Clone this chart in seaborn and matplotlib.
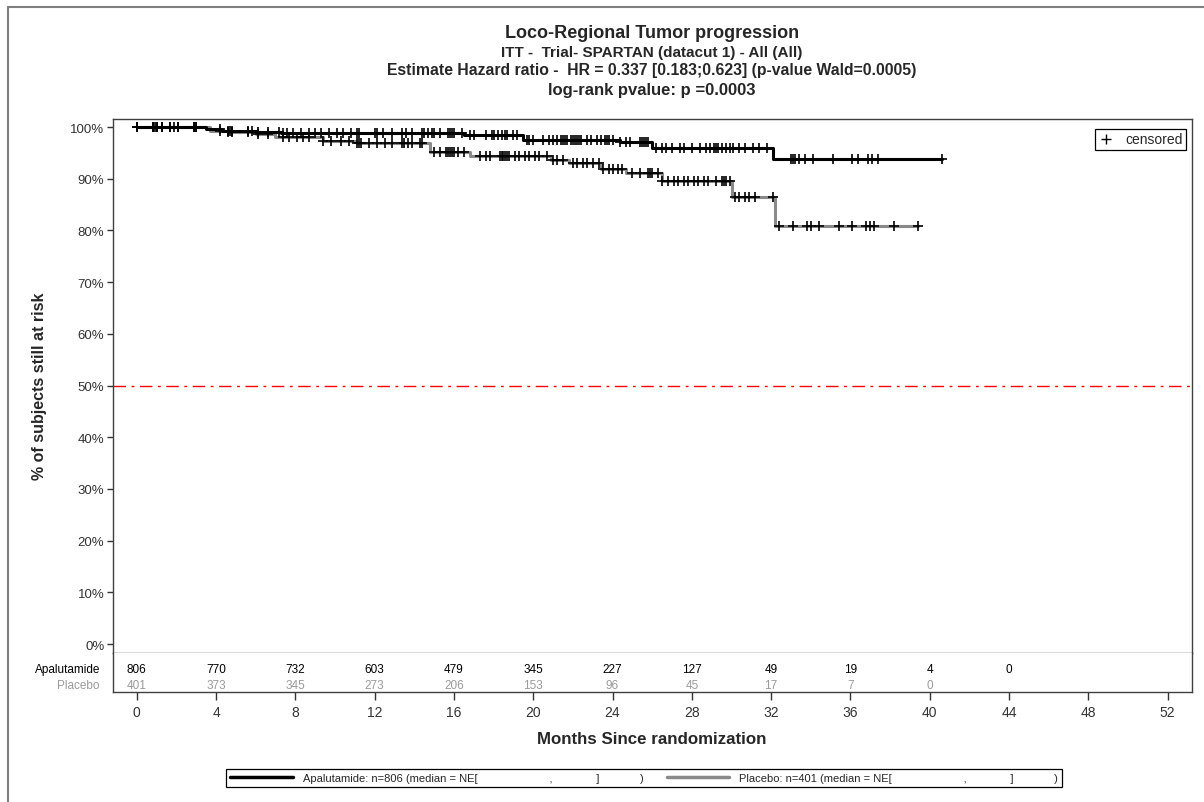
import numpy as np
import pandas as pd
import matplotlib
matplotlib.use("Agg")
import matplotlib.pyplot as plt
import seaborn as sns
from matplotlib.lines import Line2D

# ---- Kaplan-Meier step estimates (months, % still at risk) ----
apa_time = [0, 3.5, 4.3, 6.0, 7.3, 16.5, 19.5, 24.4, 26.0, 32.1, 40.6]
apa_surv = [100, 99.6, 99.3, 99.0, 98.9, 98.5, 97.5, 97.1, 95.9, 93.9, 93.9]

pla_time = [0, 3.7, 4.6, 6.0, 7.0, 9.4, 11.1, 14.8, 16.8, 20.9, 21.8, 23.4,
            24.7, 26.5, 30.0, 32.2, 39.4]
pla_surv = [100, 99.3, 99.0, 98.6, 98.1, 97.3, 97.0, 95.2, 94.4, 93.6, 93.0,
            91.8, 91.1, 89.6, 86.4, 80.9, 80.9]

# ---- censoring times (months) ----
apa_cens = [0.0, 0.8, 0.9, 1.0, 1.3, 1.7, 1.9, 2.1, 2.9, 3.0, 4.2, 4.6, 4.7,
            4.8, 5.6, 5.8, 6.1, 6.6, 7.2, 7.4, 7.6, 7.9, 8.3, 8.7, 9.0, 9.3,
            9.7, 10.1, 10.4, 10.8, 11.1, 11.2, 12.0, 12.1, 12.4, 12.9, 13.4,
            13.6, 13.9, 14.4, 14.5, 14.7, 14.9, 15.0, 15.3, 15.7, 15.8, 15.9,
            16.0, 16.4, 16.8, 17.0, 17.6, 17.9, 18.0, 18.2, 18.4, 18.6, 18.7,
            19.0, 19.2, 19.7, 19.8, 20.0, 20.5, 20.8, 21.0, 21.2, 21.4, 21.5,
            21.6, 21.7, 21.9, 22.0, 22.1, 22.2, 22.3, 22.4, 22.7, 22.9, 23.2,
            23.4, 23.6, 23.7, 23.8, 24.0, 24.4, 24.7, 24.9, 25.4, 25.5, 25.6,
            25.7, 25.8, 26.2, 26.5, 26.7, 27.0, 27.4, 27.6, 28.0, 28.4, 28.7,
            28.9, 29.1, 29.2, 29.3, 29.5, 29.7, 29.9, 30.1, 30.4, 30.7, 31.1,
            31.4, 31.8, 33.0, 33.1, 33.2, 33.4, 33.7, 34.1, 35.1, 36.1, 36.4,
            36.9, 37.1, 37.4, 40.6]

pla_cens = [0.0, 0.8, 1.0, 1.3, 1.7, 2.1, 2.9, 3.0, 4.2, 4.6, 4.8, 5.6, 6.1,
            6.6, 7.4, 7.7, 8.1, 8.4, 8.7, 9.4, 9.8, 10.3, 10.7, 11.1, 11.2,
            11.3, 11.7, 12.1, 12.5, 12.9, 13.4, 13.5, 13.7, 13.9, 14.3, 14.4,
            15.0, 15.3, 15.6, 15.7, 15.8, 15.9, 16.0, 16.2, 16.5, 17.3, 17.6,
            17.8, 18.3, 18.4, 18.5, 18.6, 18.7, 18.8, 19.1, 19.3, 19.6, 19.8,
            20.1, 20.3, 20.7, 21.0, 21.2, 21.5, 22.0, 22.2, 22.5, 22.7, 23.0,
            23.3, 23.5, 23.8, 24.0, 24.3, 24.5, 25.0, 25.4, 25.8, 25.9, 26.0,
            26.3, 26.5, 26.8, 27.1, 27.3, 27.6, 27.8, 28.1, 28.3, 28.6, 28.8,
            29.2, 29.5, 29.6, 29.7, 29.9, 30.2, 30.4, 30.7, 30.9, 31.2, 32.1,
            32.4, 33.1, 33.8, 34.0, 34.4, 35.4, 36.1, 36.8, 37.0, 37.2, 38.2,
            39.4]

# ---- numbers at risk ----
risk_months = [0, 4, 8, 12, 16, 20, 24, 28, 32, 36, 40, 44]
apa_risk = [806, 770, 732, 603, 479, 345, 227, 127, 49, 19, 4, 0]
pla_risk = [401, 373, 345, 273, 206, 153, 96, 45, 17, 7, 0]

x_ticks = list(range(0, 53, 4))
y_ticks = list(range(0, 101, 10))

APA_COLOR = "black"
PLA_COLOR = "#8a8a8a"
PLA_TEXT = "#9a9a9a"

sns.set_style("white")
plt.rcParams["font.family"] = ["Liberation Sans", "DejaVu Sans"]

W, H = 1204, 803
fig = plt.figure(figsize=(W / 100, H / 100), dpi=100)


def fx(px):
    return px / W


def fy(py):
    return 1 - py / H


left_px, right_px = 113.3, 1191.7
top_px, mid_px, bot_px = 120, 654, 693.3
ax = fig.add_axes([fx(left_px), fy(mid_px), (right_px - left_px) / W,
                   (mid_px - top_px) / H])
axt = fig.add_axes([fx(left_px), fy(bot_px), (right_px - left_px) / W,
                    (bot_px - mid_px) / H], sharex=ax)

# step curves
curve_df = pd.concat([
    pd.DataFrame({"month": pla_time, "surv": pla_surv, "arm": "Placebo"}),
    pd.DataFrame({"month": apa_time, "surv": apa_surv, "arm": "Apalutamide"}),
], ignore_index=True)
sns.lineplot(data=curve_df, x="month", y="surv", hue="arm",
             hue_order=["Placebo", "Apalutamide"],
             palette={"Placebo": PLA_COLOR, "Apalutamide": APA_COLOR},
             drawstyle="steps-post", estimator=None, sort=False,
             linewidth=2.2, legend=False, ax=ax)


def surv_at(times, t_arr, s_arr):
    idx = np.searchsorted(np.asarray(t_arr), np.asarray(times), side="right") - 1
    return np.asarray(s_arr)[idx]


cens_df = pd.concat([
    pd.DataFrame({"month": pla_cens, "surv": surv_at(pla_cens, pla_time, pla_surv)}),
    pd.DataFrame({"month": apa_cens, "surv": surv_at(apa_cens, apa_time, apa_surv)}),
], ignore_index=True)
sns.scatterplot(data=cens_df, x="month", y="surv", marker="+", s=60,
                color="black", linewidth=1.2, legend=False, ax=ax, zorder=4)

# median reference line
ax.axhline(50, color="red", linewidth=1.0, dashes=(9, 4, 2, 4), zorder=1)

ax.set_xlim(-1.18, 53.21)
ax.set_ylim(-1.74, 101.55)
ax.set_yticks(y_ticks)
ax.set_yticklabels([f"{v}%" for v in y_ticks])
ax.tick_params(axis="y", direction="out", length=4.5, width=1,
               colors="#333333", labelsize=9.5, pad=2, left=True)
ax.tick_params(axis="x", bottom=False, labelbottom=False)
ax.set_xlabel("")
ax.set_ylabel("")
for sp in ax.spines.values():
    sp.set_color("#404040")
    sp.set_linewidth(1.0)

fig.text(fx(40), fy(386), "% of subjects still at risk", rotation=90,
         ha="center", va="center", fontsize=11.5, fontweight="bold")

# censored key
cens_handle = Line2D([], [], marker="+", color="black", linestyle="none",
                     markersize=7, markeredgewidth=1.0)
leg_c = ax.legend([cens_handle], ["censored"], loc="upper right",
                  bbox_to_anchor=(1 - (right_px - 1186) / (right_px - left_px),
                                  1 - (130 - top_px) / (mid_px - top_px)),
                  borderaxespad=0, fancybox=False, edgecolor="black",
                  framealpha=1, fontsize=10, handletextpad=0.9, borderpad=0.25,
                  handlelength=1.0)
leg_c.get_frame().set_linewidth(0.9)

# numbers-at-risk table
row_apa, row_pla = (bot_px - 670) / (bot_px - mid_px), (bot_px - 686) / (bot_px - mid_px)
axt.set_ylim(0, 1)
axt.set_yticks([])
for m, n in zip(risk_months, apa_risk):
    axt.text(m, row_apa, str(n), ha="center", va="center", fontsize=8.5,
             color="black")
for m, n in zip(risk_months, pla_risk):
    axt.text(m, row_pla, str(n), ha="center", va="center", fontsize=8.5,
             color=PLA_TEXT)
lab_x = (100 - left_px) / (right_px - left_px)
axt.text(lab_x, row_apa, "Apalutamide", transform=axt.transAxes, ha="right",
         va="center", fontsize=8.5, color="black")
axt.text(lab_x, row_pla, "Placebo", transform=axt.transAxes, ha="right",
         va="center", fontsize=8.5, color=PLA_TEXT)
axt.set_xticks(x_ticks)
axt.set_xticklabels([str(v) for v in x_ticks])
axt.tick_params(axis="x", direction="out", length=5.5, width=1,
                colors="#333333", labelsize=10, pad=3.5, bottom=True)
axt.spines["top"].set_visible(False)
for name in ["left", "right", "bottom"]:
    axt.spines[name].set_color("#404040")
    axt.spines[name].set_linewidth(1.0)

fig.text(fx(652), fy(740), "Months Since randomization", ha="center",
         va="center", fontsize=12.2, fontweight="bold")

# titles
fig.text(fx(652), fy(34), "Loco-Regional Tumor progression", ha="center",
         va="center", fontsize=13, fontweight="bold")
fig.text(fx(652), fy(53), "ITT -  Trial- SPARTAN (datacut 1) - All (All)",
         ha="center", va="center", fontsize=11, fontweight="bold")
fig.text(fx(652), fy(70),
         "Estimate Hazard ratio -  HR = 0.337 [0.183;0.623] (p-value Wald=0.0005)",
         ha="center", va="center", fontsize=11.3, fontweight="bold")
fig.text(fx(652), fy(90), "log-rank pvalue: p =0.0003", ha="center",
         va="center", fontsize=12, fontweight="bold")

# group key
handles = [Line2D([], [], color=APA_COLOR, linewidth=2.5),
           Line2D([], [], color=PLA_COLOR, linewidth=2.5)]
gap1, gap2, gap3 = " " * 23, " " * 14, " " * 13
labels = [f"Apalutamide: n=806 (median = NE[{gap1},{gap2}]{gap3})",
          f"Placebo: n=401 (median = NE[{gap1},{gap2}]{gap3})"]
leg = fig.legend(handles, labels, loc="center",
                 bbox_to_anchor=(fx(644), fy(779)), ncol=2, frameon=True,
                 fancybox=False, edgecolor="black", framealpha=1,
                 fontsize=8, handlelength=5.6, columnspacing=2.1,
                 borderpad=0.35, handletextpad=0.9)
leg.get_frame().set_linewidth(0.9)

# outer page border
fig.add_artist(Line2D([fx(8), fx(8)], [0, fy(8)], transform=fig.transFigure,
                      color="#7f7f7f", linewidth=1.5))
fig.add_artist(Line2D([fx(8), 1], [fy(8), fy(8)], transform=fig.transFigure,
                      color="#7f7f7f", linewidth=1.5))

fig.savefig("out.png", dpi=100)
